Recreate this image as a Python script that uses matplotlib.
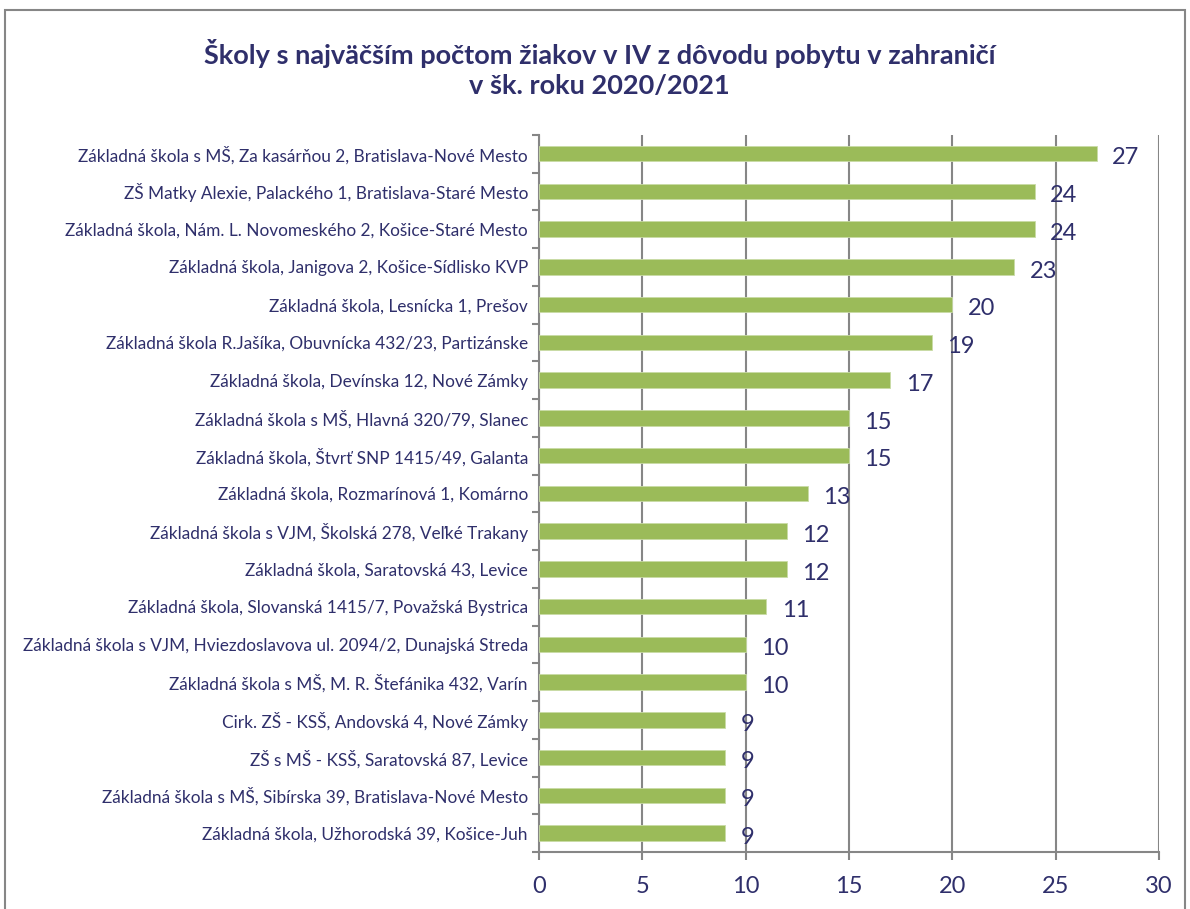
import matplotlib
matplotlib.use("Agg")
import matplotlib.pyplot as plt
from matplotlib.patches import Rectangle

plt.rcParams['font.family'] = ['Lato', 'DejaVu Sans']

# Dáta
skoly = [
    "Základná škola s MŠ, Za kasárňou 2, Bratislava-Nové Mesto",
    "ZŠ Matky Alexie, Palackého 1, Bratislava-Staré Mesto",
    "Základná škola, Nám. L. Novomeského 2, Košice-Staré Mesto",
    "Základná škola, Janigova 2, Košice-Sídlisko KVP",
    "Základná škola, Lesnícka 1, Prešov",
    "Základná škola R.Jašíka, Obuvnícka 432/23, Partizánske",
    "Základná škola, Devínska 12, Nové Zámky",
    "Základná škola s MŠ, Hlavná 320/79, Slanec",
    "Základná škola, Štvrť SNP 1415/49, Galanta",
    "Základná škola, Rozmarínová 1, Komárno",
    "Základná škola s VJM, Školská 278, Veľké Trakany",
    "Základná škola, Saratovská 43, Levice",
    "Základná škola, Slovanská 1415/7, Považská Bystrica",
    "Základná škola s VJM, Hviezdoslavova ul. 2094/2, Dunajská Streda",
    "Základná škola s MŠ, M. R. Štefánika 432, Varín",
    "Cirk. ZŠ - KSŠ, Andovská 4, Nové Zámky",
    "ZŠ s MŠ - KSŠ, Saratovská 87, Levice",
    "Základná škola s MŠ, Sibírska 39, Bratislava-Nové Mesto",
    "Základná škola, Užhorodská 39, Košice-Juh",
]
ziaci = [27, 24, 24, 23, 20, 19, 17, 15, 15, 13, 12, 12, 11, 10, 10, 9, 9, 9, 9]
x_ticks = [0, 5, 10, 15, 20, 25, 30]

navy = '#2F2F6B'
zelena = '#9BBB59'
siva = '#868686'

fig = plt.figure(figsize=(11.9, 9.09), dpi=100)
ax = fig.add_axes([0.453, 0.0627, 0.521, 0.789])

pozicie = list(range(len(skoly)))
ax.barh(pozicie, ziaci, height=0.41, color=zelena, edgecolor='#C9DBA6', linewidth=0.6, zorder=3)

# hodnoty vedľa stĺpcov
for p, v in zip(pozicie, ziaci):
    ax.annotate(str(v), (v, p), xytext=(11, -3), textcoords='offset points',
                va='center', ha='left', fontsize=17, color=navy, zorder=4)

ax.set_ylim(len(skoly) - 0.5, -0.5)
ax.set_xlim(0, 30)
ax.set_xticks(x_ticks)
ax.set_xticklabels([str(t) for t in x_ticks], fontsize=17, color=navy)

ax.set_yticks(pozicie)
ax.set_yticklabels(skoly, fontsize=12.4, color=navy)
ax.tick_params(axis='y', length=0, pad=8)
ax.set_yticks([i - 0.5 for i in range(len(skoly) + 1)], minor=True)
ax.tick_params(axis='y', which='minor', length=5, color=siva, width=1.5)
ax.tick_params(axis='x', length=6, color=siva, width=1.5, pad=11)

ax.grid(axis='x', color=siva, linewidth=1.5, zorder=0)
for s in ['top', 'right']:
    ax.spines[s].set_visible(False)
for s in ['left', 'bottom']:
    ax.spines[s].set_color(siva)
    ax.spines[s].set_linewidth(1.5)

fig.text(0.504, 0.925, "Školy s najväčším počtom žiakov v IV z dôvodu pobytu v zahraničí\nv šk. roku 2020/2021",
         ha='center', va='center', fontsize=19.5, fontweight='bold', color=navy, linespacing=1.3)

fig.patches.append(Rectangle((5 / 1190, -0.01), 1180 / 1190, 1.01 - 10 / 909,
                             transform=fig.transFigure, fill=False, edgecolor=siva, linewidth=1.5))

fig.savefig('out.png', dpi=100)
